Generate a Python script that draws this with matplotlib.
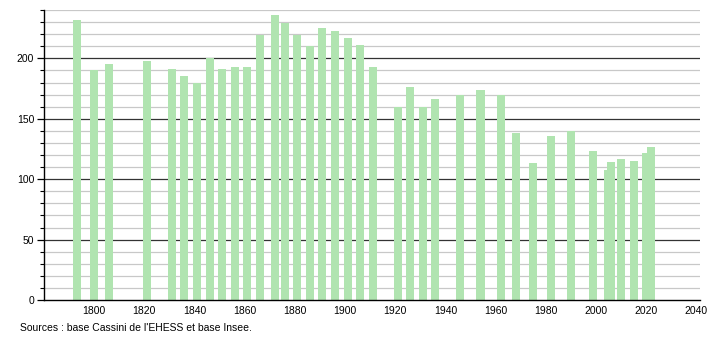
import matplotlib
matplotlib.use("Agg")
import matplotlib.pyplot as plt
from matplotlib.ticker import MultipleLocator

years = [1793, 1800, 1806, 1821, 1831, 1836, 1841, 1846, 1851, 1856, 1861, 1866,
         1872, 1876, 1881, 1886, 1891, 1896, 1901, 1906, 1911, 1921, 1926, 1931,
         1936, 1946, 1954, 1962, 1968, 1975, 1982, 1990, 1999, 2005, 2006, 2010,
         2015, 2020, 2022]
population = [232, 190, 195, 198, 191, 185, 180, 200, 191, 193, 193, 219,
              236, 229, 219, 210, 225, 223, 217, 211, 193, 160, 176, 160,
              166, 170, 174, 170, 138, 113, 136, 140, 123, 108, 114, 117,
              115, 122, 127]
x_ticks = [1800, 1820, 1840, 1860, 1880, 1900, 1920, 1940, 1960, 1980, 2000, 2020, 2040]
y_ticks = [0, 50, 100, 150, 200]
source_text = "Sources : base Cassini de l'EHESS et base Insee."

plt.rcParams['font.family'] = ['Liberation Sans', 'DejaVu Sans']

fig = plt.figure(figsize=(7.1, 3.4), dpi=100)
ax = fig.add_axes([44/710, 1 - 300/340, (700 - 44)/710, 290/340])

ax.set_xlim(1780, 2041.5)
ax.set_ylim(0, 240)

# grid lines
for v in range(10, 241, 10):
    if v % 50 == 0:
        ax.axhline(v, color='#333333', lw=0.9, zorder=1)
    else:
        ax.axhline(v, color='#c8c8c8', lw=0.9, zorder=1)

ax.bar(years, population, width=3.2, color='#b0e4b0', zorder=2, align='center')

ax.set_xticks(x_ticks)
ax.set_xticklabels([str(t) for t in x_ticks])
ax.set_yticks(y_ticks)
ax.yaxis.set_minor_locator(MultipleLocator(10))
ax.tick_params(axis='x', length=0, labelsize=7.5, pad=4)
ax.tick_params(axis='y', which='major', length=5, width=0.9, labelsize=7.5, pad=2)
ax.tick_params(axis='y', which='minor', length=3, width=0.8)

for s in ['top', 'right']:
    ax.spines[s].set_visible(False)
ax.spines['left'].set_linewidth(1.0)
ax.spines['bottom'].set_linewidth(1.0)
ax.spines['left'].set_zorder(3)
ax.spines['bottom'].set_zorder(3)

fig.text(20/710, 1 - 328/340, source_text, fontsize=7.5, va='center', ha='left')

fig.savefig("out.png", dpi=100)
